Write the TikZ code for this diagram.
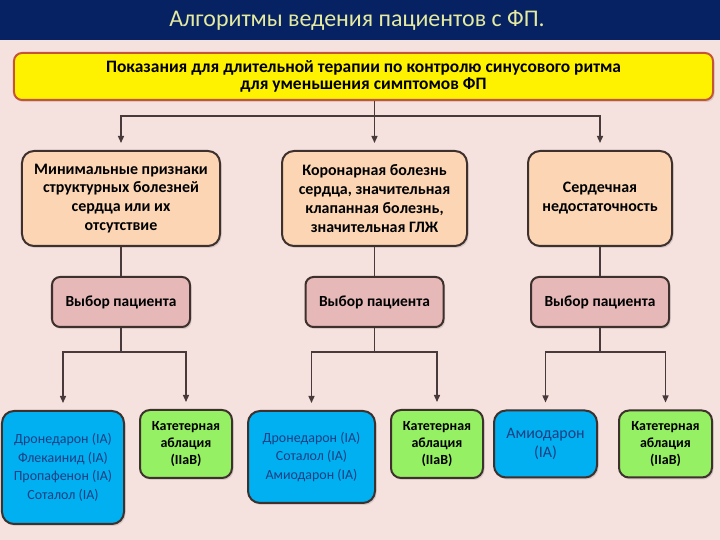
\documentclass[tikz,border=0pt]{standalone}
\usepackage{fontspec}
\setmainfont{Carlito}
\usepackage{xcolor}
\usepackage{tikz}
\usetikzlibrary{arrows.meta,positioning,shadows}
\definecolor{bandblue}{RGB}{6,34,98}
\definecolor{titleyellow}{RGB}{228,234,160}
\definecolor{bgpink}{RGB}{245,225,222}
\definecolor{indborder}{RGB}{196,84,58}
\definecolor{peach}{RGB}{252,214,180}
\definecolor{selpink}{RGB}{230,184,183}
\definecolor{drugblue}{RGB}{0,176,240}
\definecolor{drugtext}{RGB}{28,62,130}
\definecolor{ablgreen}{RGB}{150,240,100}
\definecolor{boxedge}{RGB}{62,48,44}
\definecolor{connline}{RGB}{72,58,58}
\tikzset{
  boxshadow/.style={
    drop shadow={shadow xshift=1.5bp,shadow yshift=-2bp,opacity=0.25}
  },
  indbox/.style={
    draw=indborder,
    line width=2bp,
    fill=yellow,
    rounded corners=8bp,
    align=center,
    inner sep=0pt,
    font=\fontsize{17.5}{17}\selectfont\bfseries,
    boxshadow
  },
  groupbox/.style={
    draw=boxedge,
    line width=2bp,
    fill=peach,
    rounded corners=12bp,
    align=center,
    inner sep=0pt,
    minimum height=95bp,
    font=\fontsize{16}{19}\selectfont\bfseries,
    boxshadow
  },
  selbox/.style={
    draw=boxedge,
    line width=2bp,
    fill=selpink,
    rounded corners=8bp,
    align=center,
    inner sep=0pt,
    minimum width=138bp,
    minimum height=50bp,
    font=\fontsize{15.5}{17}\selectfont\bfseries,
    boxshadow
  },
  drugbox/.style={
    draw=boxedge,
    line width=2bp,
    fill=drugblue,
    text=drugtext,
    rounded corners=12bp,
    align=center,
    inner sep=0pt,
    font=\fontsize{14}{18.5}\selectfont,
    boxshadow
  },
  ablbox/.style={
    draw=boxedge,
    line width=2bp,
    fill=ablgreen,
    rounded corners=10bp,
    align=center,
    inner sep=0pt,
    minimum width=92bp,
    minimum height=68bp,
    font=\fontsize{14}{17}\selectfont\bfseries,
    boxshadow
  },
  pathline/.style={
    draw=connline,
    line width=1.4bp
  },
  patharrow/.style={
    pathline,
    -{Triangle[length=7bp,width=6bp]},
    shorten >=7bp
  }
}

\begin{document}
\begin{tikzpicture}[x=1bp,y=1bp]
    % background and title band
    \fill[bgpink] (0,0) rectangle (720,540);
    \fill[bandblue] (0,500) rectangle (720,540);
    \node[text=titleyellow, font=\fontsize{24}{26}\selectfont] (title) at (357,520) {Алгоритмы ведения пациентов с ФП.};

    \node[indbox, minimum width=699bp, minimum height=47bp] (ind) at (363.5,463.5)
      {Показания для длительной терапии по контролю синусового ритма\\для уменьшения симптомов ФП};

    \node[groupbox, minimum width=198bp] (mini) at (121,341.5)
      {Минимальные признаки\\структурных болезней\\сердца или их\\отсутствие};
    \node[groupbox, minimum width=185bp] (cad) at (374.5,341.5)
      {Коронарная болезнь\\сердца, значительная\\клапанная болезнь,\\значительная ГЛЖ};
    \node[groupbox, minimum width=144bp] (hf) at (600,341.5)
      {Сердечная\\недостаточность};

    \node[selbox, below=29bp of mini] (sel1) {Выбор пациента};
    \node[selbox, below=29bp of cad] (sel2) {Выбор пациента};
    \node[selbox, below=29bp of hf] (sel3) {Выбор пациента};

    \node[drugbox, minimum width=122bp, minimum height=113bp] (drug1) at (63,72.5)
      {Дронедарон (IA)\\Флекаинид (IA)\\Пропафенон (IA)\\Соталол (IA)};
    \node[ablbox] (abl1) at (186,96) {Катетерная\\аблация\\(IIaB)};
    \node[drugbox, minimum width=127bp, minimum height=92bp] (drug2) at (311.5,83)
      {Дронедарон (IA)\\Соталол (IA)\\Амиодарон (IA)};
    \node[ablbox] (abl2) at (437,96) {Катетерная\\аблация\\(IIaB)};
    \node[drugbox, minimum width=103bp, minimum height=67bp,
      font=\fontsize{16}{19}\selectfont] (drug3) at (545.5,96) {Амиодарон\\(IA)};
    \node[ablbox, minimum width=93bp, minimum height=67bp] (abl3) at (665.5,96) {Катетерная\\аблация\\(IIaB)};

    \coordinate (fork) at (374.5,424);
    \draw[patharrow] (ind.south -| cad) -- (cad);
    \draw[patharrow] (fork) -| (mini);
    \draw[patharrow] (fork) -| (hf);

    \draw[pathline] (mini) -- (sel1);
    \draw[pathline] (cad) -- (sel2);
    \draw[pathline] (hf) -- (sel3);

    \draw[patharrow] (sel1.south) -- ++(0,-24) -| (drug1);
    \draw[patharrow] (sel1.south) -- ++(0,-24) -| (abl1);
    \draw[patharrow] (sel2.south) -- ++(0,-24) -| (drug2);
    \draw[patharrow] (sel2.south) -- ++(0,-24) -| (abl2);
    \draw[patharrow] (sel3.south) -- ++(0,-24) -| (drug3);
    \draw[patharrow] (sel3.south) -- ++(0,-24) -| (abl3);
  \end{tikzpicture}
\end{document}
